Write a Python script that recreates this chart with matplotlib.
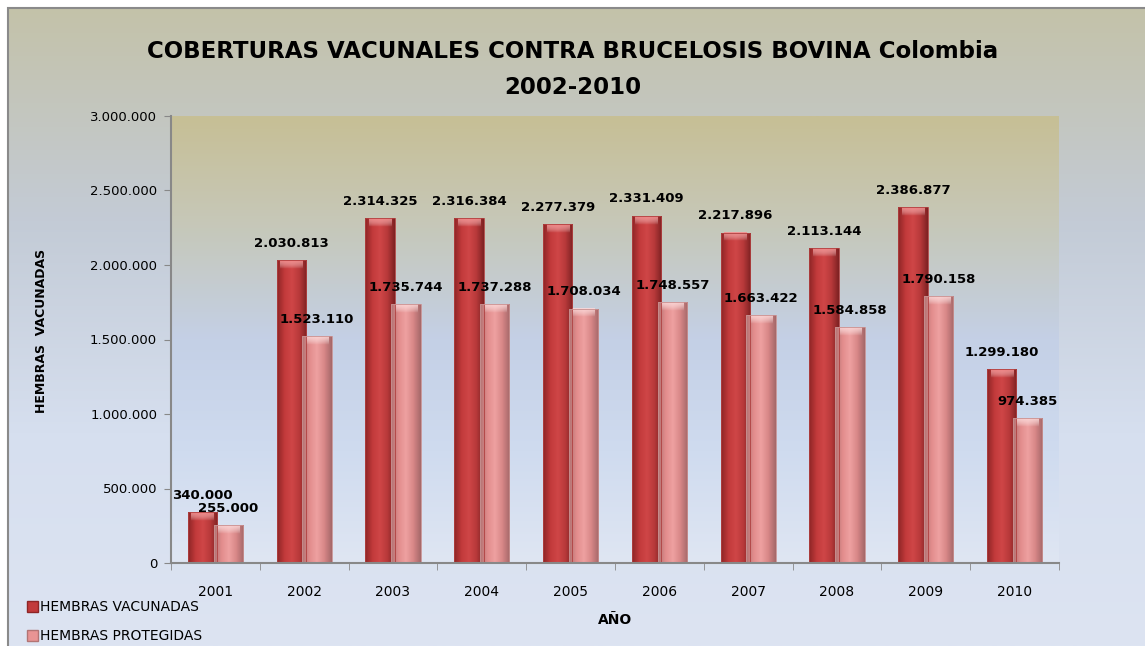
import matplotlib
matplotlib.use("Agg")
import matplotlib.pyplot as plt
import numpy as np
from matplotlib.colors import LinearSegmentedColormap
from matplotlib.patches import Patch, Rectangle
from matplotlib.ticker import FuncFormatter

years = ['2001', '2002', '2003', '2004', '2005', '2006', '2007', '2008', '2009', '2010']
vacunadas = [340000, 2030813, 2314325, 2316384, 2277379, 2331409, 2217896, 2113144, 2386877, 1299180]
protegidas = [255000, 1523110, 1735744, 1737288, 1708034, 1748557, 1663422, 1584858, 1790158, 974385]
series_names = ['HEMBRAS VACUNADAS', 'HEMBRAS PROTEGIDAS']


def miles(v):
    return f"{int(round(v)):,}".replace(',', '.')


fig = plt.figure(figsize=(11.45, 6.46), dpi=100)
fig.patch.set_facecolor('white')

# figure background gradient (olive-gray on top to light blue at bottom)
bg = fig.add_axes([8 / 1145, 0, 1, 1 - 8 / 646], zorder=-10)
bg_cmap = LinearSegmentedColormap.from_list('bg', ['#c4c2a9', '#c3cbd6', '#d6dfef', '#dde4f2'])
bg.imshow(np.linspace(0, 1, 256).reshape(-1, 1), cmap=bg_cmap, aspect='auto',
          extent=[0, 1, 0, 1], origin='upper')
bg.set_xlim(0, 1)
bg.set_ylim(0, 1)
bg.axis('off')
fig.add_artist(Rectangle((8 / 1145, -0.01), 1, 1 - 8 / 646 + 0.01, transform=fig.transFigure,
                         fill=False, edgecolor='#8a8a8a', linewidth=1.5, zorder=-9))

ax = fig.add_axes([171 / 1145, 1 - 563 / 646, 888 / 1145, 447 / 646])
ax.set_facecolor('none')
pa_cmap = LinearSegmentedColormap.from_list('pa', ['#c7bf95', '#c6c8ba', '#c4d0e6', '#cfdbef', '#dfe6f3'])
ax.imshow(np.linspace(0, 1, 256).reshape(-1, 1), cmap=pa_cmap, aspect='auto',
          extent=[0, 1, 0, 1], origin='upper', transform=ax.transAxes, zorder=0)

x = np.arange(len(years))
w = 0.33
off = 0.145

red_cmap = LinearSegmentedColormap.from_list('r', ['#8e2526', '#c23a3b', '#cf4647', '#b8393a', '#7e2223'])
pink_cmap = LinearSegmentedColormap.from_list('p', ['#b27474', '#e28c8c', '#eea1a1', '#d88787', '#a56869'])
grad = np.linspace(0, 1, 64).reshape(1, -1)
cap_grad = np.linspace(0, 1, 16).reshape(-1, 1)

for vals, dx, cmap, cap, edge in [(vacunadas, -off, red_cmap, '#f58a8a', '#b04040'),
                                  (protegidas, off, pink_cmap, '#fcd6d6', '#c89090')]:
    bars = ax.bar(x + dx, vals, w, color='none', edgecolor=edge, linewidth=0.6, zorder=3)
    cap_cmap = LinearSegmentedColormap.from_list('c', [(1, 1, 1, 0), cap])
    for b in bars:
        bx, by = b.get_x(), b.get_y()
        bw, bh = b.get_width(), b.get_height()
        im = ax.imshow(grad, cmap=cmap, aspect='auto', extent=[bx, bx + bw, by, by + bh],
                       zorder=2)
        im.set_clip_path(b)
        hi = ax.imshow(cap_grad, cmap=cap_cmap, aspect='auto',
                       extent=[bx + bw * 0.12, bx + bw * 0.88, by + bh - 60000, by + bh - 5000],
                       origin='lower', zorder=2.5, alpha=0.9)
    for xi, v in zip(x + dx, vals):
        ax.annotate(miles(v), (xi, v), xytext=(0, 12), textcoords='offset points',
                    ha='center', va='center', fontsize=9.5, fontweight='bold', zorder=5)

ax.set_xlim(-0.5, len(years) - 0.5)
ax.set_ylim(0, 3000000)
ax.set_yticks(np.arange(0, 3000001, 500000))
ax.yaxis.set_major_formatter(FuncFormatter(lambda v, p: miles(v)))
ax.set_xticks(x)
ax.set_xticklabels(years)
ax.set_xticks(np.arange(-0.5, len(years)), minor=True)
ax.tick_params(axis='x', which='major', length=0, pad=16, labelsize=10)
ax.tick_params(axis='x', which='minor', length=5, color='#888888')
ax.tick_params(axis='y', length=5, color='#888888', labelsize=9.5, pad=5)
for s in ['top', 'right']:
    ax.spines[s].set_visible(False)
for s in ['left', 'bottom']:
    ax.spines[s].set_color('#888888')
    ax.spines[s].set_linewidth(1.5)
    ax.spines[s].set_zorder(4)

ax.set_ylabel('HEMBRAS  VACUNADAS', fontsize=9, fontweight='bold')
ax.yaxis.set_label_coords(-0.139, 0.52)
ax.set_xlabel('AÑO', fontsize=10, fontweight='bold', labelpad=10)

fig.text(0.5, 1 - 52 / 646, 'COBERTURAS VACUNALES CONTRA BRUCELOSIS BOVINA Colombia',
         ha='center', va='center', fontsize=16.5, fontweight='bold')
fig.text(0.5, 1 - 88 / 646, '2002-2010', ha='center', va='center', fontsize=16.5,
         fontweight='bold')

handles = [Patch(facecolor='#c23a3b', edgecolor='#8e2526'),
           Patch(facecolor='#e89494', edgecolor='#b27474')]
fig.legend(handles, series_names, loc='lower left', bbox_to_anchor=(14 / 1145, -10 / 646),
           frameon=False, fontsize=10, handlelength=0.8, handleheight=0.8,
           handletextpad=0.2, labelspacing=1.1)

fig.savefig('out.png', dpi=100)
